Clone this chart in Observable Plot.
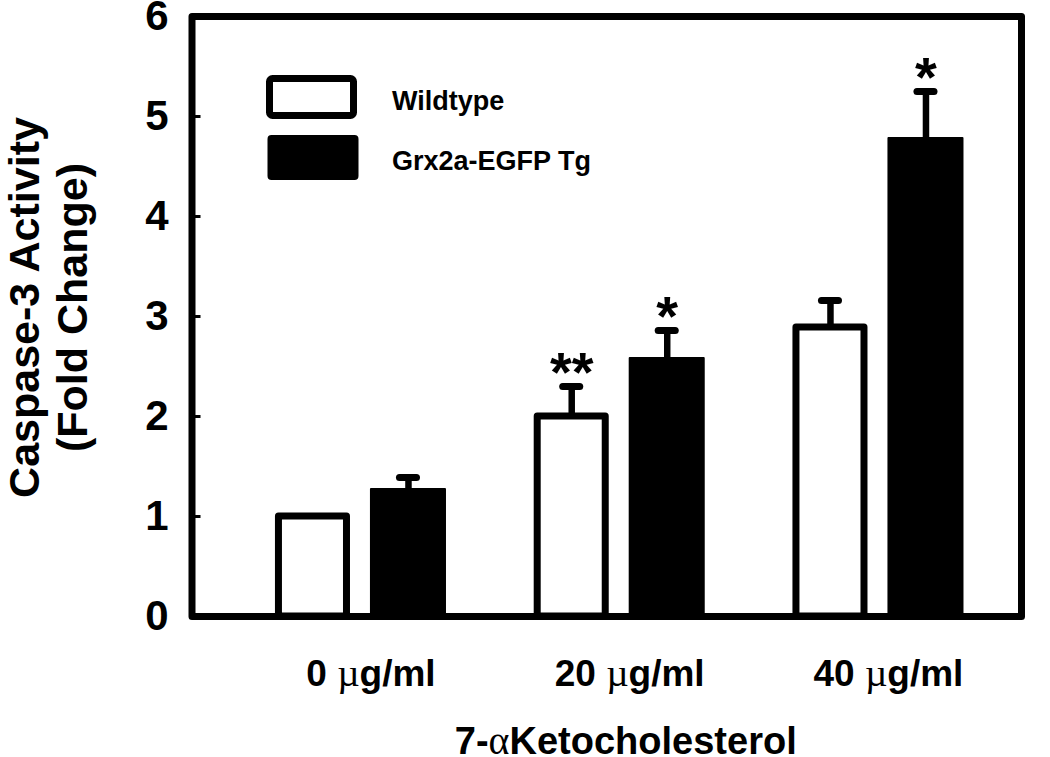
<!DOCTYPE html>
<html>
<head>
<meta charset="utf-8">
<script src="https://cdn.jsdelivr.net/npm/d3@7"></script>
<script src="https://cdn.jsdelivr.net/npm/@observablehq/plot@0.6"></script>
<style>
  html, body { margin: 0; padding: 0; background: #fff; }
  #wrap { position: relative; width: 1050px; height: 757px; }
  #legend { position: absolute; left: 0; top: 0; pointer-events: none; }
</style>
</head>
<body>
<div id="wrap"></div>
<script>
// ---- data ----
const groups = ["0 µg/ml", "20 µg/ml", "40 µg/ml"];
const series = ["Wildtype", "Grx2a-EGFP Tg"];
const wildtype = [1.0, 2.0, 2.89];
const wildtypeErr = [0, 0.30, 0.27];
const transgenic = [1.27, 2.58, 4.78];
const transgenicErr = [0.12, 0.28, 0.47];
const wildtypeSig = ["", "**", ""];
const transgenicSig = ["", "*", "*"];
const yTicks = [0, 1, 2, 3, 4, 5, 6];
const yTitle = "Caspase-3 Activity\n(Fold Change)";
const xTitle = "7-αKetocholesterol";

const wt = groups.map((g, i) => ({group: g, value: wildtype[i], err: wildtypeErr[i], sig: wildtypeSig[i]}));
const tg = groups.map((g, i) => ({group: g, value: transgenic[i], err: transgenicErr[i], sig: transgenicSig[i]}));

const FONT = "'Liberation Sans', Arial, Helvetica, sans-serif";

const chart = Plot.plot({
  width: 1050,
  height: 757,
  marginLeft: 191.5,
  marginRight: 29,
  marginTop: 16,
  marginBottom: 141,
  style: {fontFamily: FONT, background: "#fff", color: "#000"},
  x: {domain: groups, paddingInner: 0.339, paddingOuter: 0.2724, align: 0.592, round: false, label: null},
  y: {domain: [0, 6], label: null},
  marks: [
    // bars
    Plot.barY(wt, {x: "group", y: "value", fill: "white", stroke: "black", strokeWidth: 7, strokeLinejoin: "round", insetLeft: 3.5, insetRight: 99.5}),
    Plot.barY(tg, {x: "group", y: "value", fill: "black", stroke: "black", strokeWidth: 2, strokeLinejoin: "round", insetLeft: 96, insetRight: 1}),
    // error stems
    Plot.ruleX(wt.filter(d => d.err > 0), {x: "group", y1: "value", y2: d => d.value + d.err, stroke: "black", strokeWidth: 6.5, dx: -48}),
    Plot.ruleX(tg.filter(d => d.err > 0), {x: "group", y1: "value", y2: d => d.value + d.err, stroke: "black", strokeWidth: 6.5, dx: 47.5}),
    // error caps
    Plot.tickY(wt.filter(d => d.err > 0), {x: "group", y: d => d.value + d.err, stroke: "black", strokeWidth: 7, strokeLinecap: "round", insetLeft: 29, insetRight: 125}),
    Plot.tickY(tg.filter(d => d.err > 0), {x: "group", y: d => d.value + d.err, stroke: "black", strokeWidth: 7, strokeLinecap: "round", insetLeft: 124.5, insetRight: 29.5}),
    // significance marks
    Plot.text(wt.filter(d => d.sig), {x: "group", y: d => d.value + d.err, text: "sig", dx: -48, dy: -13, fontSize: 56, fontWeight: "bold", fill: "black", lineAnchor: "middle"}),
    Plot.text(tg.filter(d => d.sig), {x: "group", y: d => d.value + d.err, text: "sig", dx: 47.5, dy: -13, fontSize: 56, fontWeight: "bold", fill: "black", lineAnchor: "middle"}),
    // frame
    Plot.frame({stroke: "black", strokeWidth: 7, strokeLinejoin: "round"}),
    // axes
    Plot.axisY(yTicks, {tickSize: -9, tickPadding: 32.5, strokeWidth: 3, fontSize: 42, fontWeight: "bold", fill: "black", tickFormat: d => String(d), label: null}),
    Plot.axisX({tickSize: 0, tickPadding: 43, fontSize: 37, fontWeight: "bold", fill: "black", dx: 10, label: null}),
    // axis titles
    Plot.text([yTitle], {frameAnchor: "left", rotate: -90, dx: -144.5, dy: -9, fontSize: 43, fontWeight: "bold", lineHeight: 1.12, textAnchor: "middle", lineAnchor: "middle", fill: "black"}),
    Plot.text([xTitle], {frameAnchor: "bottom", dx: 19, dy: 125, fontSize: 38, fontWeight: "bold", textAnchor: "middle", lineAnchor: "middle", fill: "black"})
  ]
});

document.getElementById("wrap").appendChild(chart);

// Greek letters in a serif, non-bold face (as in the original Symbol font)
d3.select(chart).selectAll("text").each(function() {
  const el = this;
  if (el.querySelector("tspan")) {
    el.querySelectorAll("tspan").forEach(ts => splitGreek(ts));
  } else {
    splitGreek(el);
  }
});
function splitGreek(node) {
  const s = node.textContent;
  if (!/[µα]/.test(s)) return;
  const parts = s.split(/([µα])/);
  node.textContent = "";
  parts.forEach(p => {
    if (!p) return;
    const t = document.createElementNS("http://www.w3.org/2000/svg", "tspan");
    t.textContent = p;
    if (/[µα]/.test(p)) {
      t.setAttribute("font-family", "'Liberation Serif', 'DejaVu Serif', serif");
      t.setAttribute("font-weight", "normal");
      t.setAttribute("font-size", "1.05em");
    }
    node.appendChild(t);
  });
}

// legend (inside the plot area, top-left)
const legend = d3.select("#wrap").append("svg")
  .attr("id", "legend").attr("width", 1050).attr("height", 757)
  .style("font-family", FONT);
const items = legend.selectAll("g").data(series).join("g");
items.append("rect")
  .attr("x", 269.5).attr("y", (d, i) => i === 0 ? 78.5 : 136)
  .attr("width", (d, i) => i === 0 ? 84 : 89).attr("height", (d, i) => i === 0 ? 37 : 43)
  .attr("rx", 3)
  .attr("fill", (d, i) => i === 0 ? "white" : "black")
  .attr("stroke", "black").attr("stroke-width", (d, i) => i === 0 ? 7 : 2)
  .attr("stroke-linejoin", "round")
  .attr("transform", (d, i) => i === 0 ? null : "translate(-1,0)");
items.append("text")
  .attr("x", 392).attr("y", (d, i) => i === 0 ? 109.5 : 169.5)
  .attr("font-size", 27).attr("font-weight", "bold").attr("fill", "black")
  .text(d => d);
</script>
</body>
</html>
